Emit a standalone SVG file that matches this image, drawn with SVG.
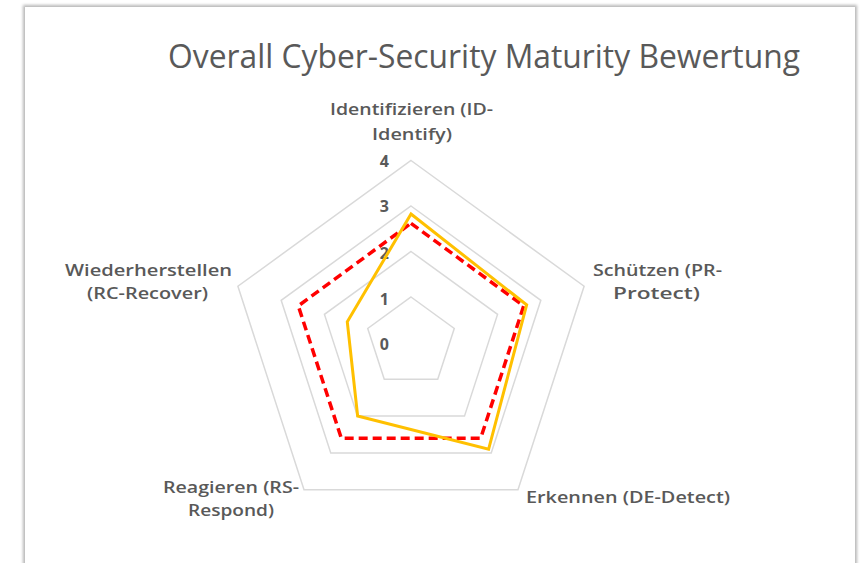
<svg xmlns="http://www.w3.org/2000/svg" width="864" height="563" viewBox="0 0 864 563">
<style>
.t{font-family:"Open Sans","Liberation Sans",sans-serif;fill:#595959}
.title{font-size:33px;font-weight:400}
.lab{font-size:17px;font-weight:600;text-anchor:middle}
.num{font-size:16px;font-weight:700;text-anchor:end}
.grid{fill:none;stroke:#d9d9d9;stroke-width:1.5}
.s1{fill:none;stroke:#FFC000;stroke-width:3;stroke-linejoin:miter}
.s2{fill:none;stroke:#FF0000;stroke-width:3.5;stroke-dasharray:9 5;stroke-linejoin:miter}
</style>
<defs>
<filter id="sh" x="-5%" y="-5%" width="110%" height="110%"><feGaussianBlur stdDeviation="1.6"/></filter>
</defs>
<rect width="864" height="563" fill="#ffffff"/>
<g id="frame">
<rect x="23" y="5" width="834" height="562" fill="#9a9a9a" filter="url(#sh)" opacity="0.7"/>
<rect x="25" y="7" width="830" height="560" fill="#ffffff"/>
</g>
<g id="title"><text class="t title" x="168" y="68" textLength="632" lengthAdjust="spacingAndGlyphs">Overall Cyber-Security Maturity Bewertung</text></g>
<g id="grid">
<polygon class="grid" points="411,297 454.27,328.44 437.74,379.31 384.26,379.31 367.73,328.44"/>
<polygon class="grid" points="411,251.5 497.55,314.38 464.49,416.12 357.51,416.12 324.45,314.38"/>
<polygon class="grid" points="411,206 540.82,300.32 491.23,452.93 330.77,452.93 281.18,300.32"/>
<polygon class="grid" points="411,160.5 584.10,286.26 517.98,489.74 304.02,489.74 237.90,286.26"/>
</g>
<g id="axis-values">
<text class="t num" x="389" y="167">4</text>
<text class="t num" x="389" y="212">3</text>
<text class="t num" x="389" y="259">2</text>
<text class="t num" x="389" y="305">1</text>
<text class="t num" x="389" y="350">0</text>
</g>
<g id="series">
<polygon id="series-target" class="s2" points="411,223.3 523.7,305.88 480.65,438.37 341.35,438.37 298.3,305.88"/>
<polygon id="series-actual" class="s1" points="411,214 526.65,304.93 488.59,449.29 357.63,415.96 347.28,321.8"/>
</g>
<g id="label-id">
<text class="t lab" x="411.5" y="115" textLength="163" lengthAdjust="spacingAndGlyphs">Identifizieren (ID-</text>
<text class="t lab" x="412" y="140" textLength="80" lengthAdjust="spacingAndGlyphs">Identify)</text>
</g>
<g id="label-pr">
<text class="t lab" x="657.5" y="276" textLength="129" lengthAdjust="spacingAndGlyphs">Schützen (PR-</text>
<text class="t lab" x="656.5" y="299" textLength="87" lengthAdjust="spacingAndGlyphs">Protect)</text>
</g>
<g id="label-de">
<text class="t lab" x="628" y="503" textLength="204" lengthAdjust="spacingAndGlyphs">Erkennen (DE-Detect)</text>
</g>
<g id="label-rs">
<text class="t lab" x="231" y="493" textLength="136" lengthAdjust="spacingAndGlyphs">Reagieren (RS-</text>
<text class="t lab" x="231" y="516" textLength="86" lengthAdjust="spacingAndGlyphs">Respond)</text>
</g>
<g id="label-rc">
<text class="t lab" x="148.5" y="276" textLength="167" lengthAdjust="spacingAndGlyphs">Wiederherstellen</text>
<text class="t lab" x="147.5" y="299" textLength="121" lengthAdjust="spacingAndGlyphs">(RC-Recover)</text>
</g>
</svg>
